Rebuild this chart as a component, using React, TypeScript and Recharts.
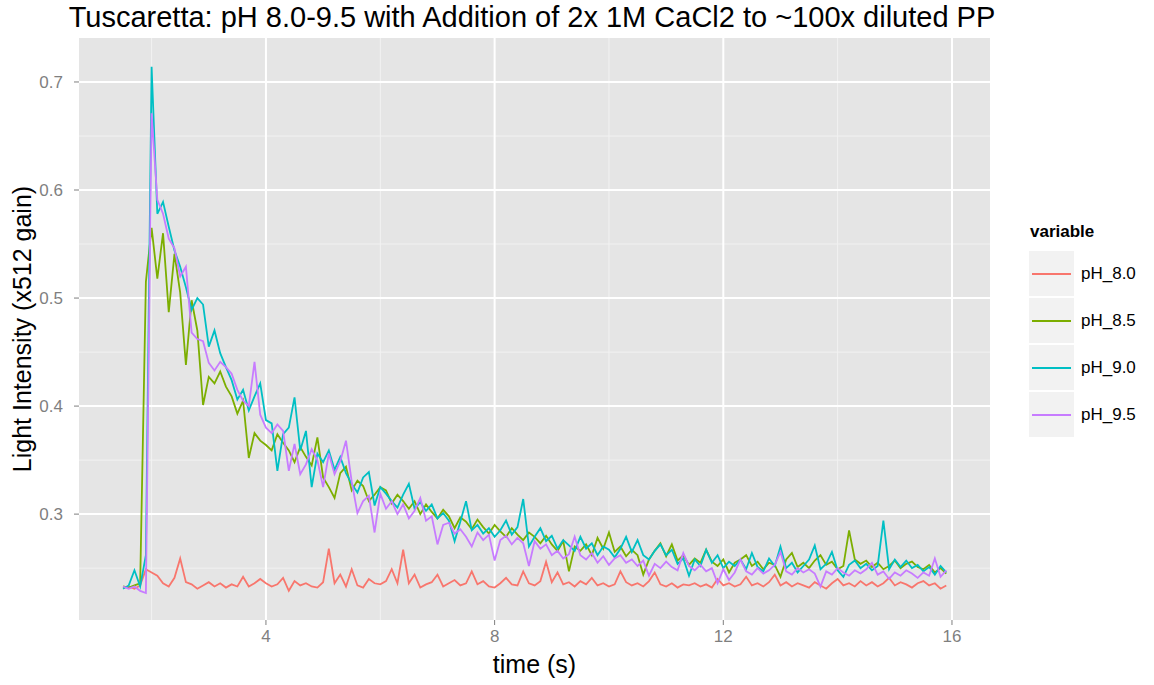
import React from "react";
import { LineChart, Line, XAxis, YAxis, CartesianGrid, Label } from "recharts";

// time (s), 0.1 s step
const time = [
  1.5, 1.6, 1.7, 1.8, 1.9, 2.0, 2.1, 2.2, 2.3, 2.4,
  2.5, 2.6, 2.7, 2.8, 2.9, 3.0, 3.1, 3.2, 3.3, 3.4,
  3.5, 3.6, 3.7, 3.8, 3.9, 4.0, 4.1, 4.2, 4.3, 4.4,
  4.5, 4.6, 4.7, 4.8, 4.9, 5.0, 5.1, 5.2, 5.3, 5.4,
  5.5, 5.6, 5.7, 5.8, 5.9, 6.0, 6.1, 6.2, 6.3, 6.4,
  6.5, 6.6, 6.7, 6.8, 6.9, 7.0, 7.1, 7.2, 7.3, 7.4,
  7.5, 7.6, 7.7, 7.8, 7.9, 8.0, 8.1, 8.2, 8.3, 8.4,
  8.5, 8.6, 8.7, 8.8, 8.9, 9.0, 9.1, 9.2, 9.3, 9.4,
  9.5, 9.6, 9.7, 9.8, 9.9, 10.0, 10.1, 10.2, 10.3, 10.4,
  10.5, 10.6, 10.7, 10.8, 10.9, 11.0, 11.1, 11.2, 11.3, 11.4,
  11.5, 11.6, 11.7, 11.8, 11.9, 12.0, 12.1, 12.2, 12.3, 12.4,
  12.5, 12.6, 12.7, 12.8, 12.9, 13.0, 13.1, 13.2, 13.3, 13.4,
  13.5, 13.6, 13.7, 13.8, 13.9, 14.0, 14.1, 14.2, 14.3, 14.4,
  14.5, 14.6, 14.7, 14.8, 14.9, 15.0, 15.1, 15.2, 15.3, 15.4,
  15.5, 15.6, 15.7, 15.8, 15.9,
];

const ph80 = [
  0.232, 0.233, 0.231, 0.234, 0.249, 0.246, 0.243, 0.236, 0.233, 0.241,
  0.259, 0.237, 0.235, 0.231, 0.234, 0.237, 0.233, 0.236, 0.232, 0.235,
  0.233, 0.242, 0.233, 0.236, 0.240, 0.236, 0.233, 0.235, 0.241, 0.229,
  0.238, 0.234, 0.236, 0.233, 0.232, 0.237, 0.268, 0.236, 0.244, 0.233,
  0.249, 0.234, 0.232, 0.240, 0.236, 0.235, 0.238, 0.249, 0.236, 0.267,
  0.236, 0.244, 0.232, 0.235, 0.237, 0.244, 0.233, 0.236, 0.239, 0.234,
  0.236, 0.247, 0.235, 0.238, 0.233, 0.232, 0.236, 0.241, 0.235, 0.234,
  0.247, 0.236, 0.234, 0.238, 0.256, 0.237, 0.246, 0.235, 0.237, 0.233,
  0.238, 0.235, 0.241, 0.234, 0.236, 0.233, 0.235, 0.247, 0.237, 0.234,
  0.236, 0.233, 0.238, 0.246, 0.235, 0.233, 0.236, 0.232, 0.235, 0.234,
  0.236, 0.233, 0.235, 0.232, 0.240, 0.234, 0.236, 0.233, 0.235, 0.242,
  0.234, 0.236, 0.233, 0.237, 0.244, 0.234, 0.237, 0.233, 0.236, 0.234,
  0.232, 0.237, 0.234, 0.231, 0.236, 0.240, 0.234, 0.236, 0.233, 0.238,
  0.234, 0.237, 0.233, 0.236, 0.241, 0.234, 0.237, 0.235, 0.232, 0.236,
  0.238, 0.234, 0.236, 0.231, 0.234,
];

const ph85 = [
  0.233, 0.232, 0.234, 0.236, 0.515, 0.565, 0.518, 0.560, 0.487, 0.541,
  0.505, 0.438, 0.498, 0.470, 0.401, 0.427, 0.421, 0.432, 0.418, 0.409,
  0.393, 0.405, 0.352, 0.375, 0.368, 0.364, 0.359, 0.374, 0.366, 0.359,
  0.348, 0.362, 0.353, 0.345, 0.371, 0.334, 0.325, 0.315, 0.338, 0.344,
  0.322, 0.331, 0.326, 0.312, 0.318, 0.325, 0.322, 0.310, 0.318, 0.312,
  0.305, 0.312, 0.300, 0.309, 0.302, 0.296, 0.304, 0.298, 0.287, 0.297,
  0.293, 0.286, 0.295, 0.288, 0.282, 0.290, 0.284, 0.279, 0.287, 0.281,
  0.276, 0.283, 0.279, 0.273, 0.280, 0.272, 0.266, 0.275, 0.247, 0.270,
  0.266, 0.272, 0.262, 0.278, 0.268, 0.283, 0.265, 0.270, 0.261, 0.267,
  0.262, 0.244, 0.258, 0.266, 0.273, 0.261, 0.272, 0.257, 0.262, 0.253,
  0.259, 0.255, 0.267, 0.256, 0.252, 0.258, 0.246, 0.255, 0.258, 0.262,
  0.252, 0.256, 0.249, 0.255, 0.253, 0.242, 0.258, 0.264, 0.251, 0.255,
  0.250, 0.257, 0.262, 0.253, 0.256, 0.249, 0.252, 0.285, 0.258, 0.254,
  0.257, 0.251, 0.255, 0.249, 0.252, 0.257, 0.250, 0.254, 0.256, 0.251,
  0.249, 0.253, 0.246, 0.250, 0.245,
];

const ph90 = [
  0.231, 0.234, 0.248, 0.233, 0.262, 0.714, 0.578, 0.589, 0.566, 0.544,
  0.529, 0.510, 0.489, 0.500, 0.494, 0.455, 0.470, 0.449, 0.436, 0.424,
  0.406, 0.415, 0.396, 0.409, 0.421, 0.387, 0.384, 0.340, 0.374, 0.380,
  0.408, 0.359, 0.377, 0.325, 0.356, 0.348, 0.359, 0.341, 0.353, 0.338,
  0.328, 0.320, 0.334, 0.339, 0.308, 0.325, 0.319, 0.312, 0.306, 0.318,
  0.328, 0.305, 0.311, 0.303, 0.309, 0.296, 0.301, 0.294, 0.275, 0.293,
  0.312, 0.285, 0.290, 0.282, 0.287, 0.279, 0.285, 0.294, 0.281, 0.288,
  0.314, 0.270, 0.279, 0.287, 0.275, 0.280, 0.268, 0.276, 0.271, 0.266,
  0.279, 0.268, 0.273, 0.262, 0.270, 0.267, 0.260, 0.268, 0.279, 0.265,
  0.276, 0.262, 0.258, 0.266, 0.272, 0.262, 0.267, 0.254, 0.259, 0.243,
  0.258, 0.252, 0.267, 0.255, 0.262, 0.250, 0.256, 0.252, 0.258, 0.249,
  0.264, 0.251, 0.247, 0.259, 0.252, 0.270, 0.250, 0.255, 0.246, 0.252,
  0.258, 0.271, 0.249, 0.254, 0.265, 0.248, 0.242, 0.253, 0.257, 0.250,
  0.254, 0.248, 0.252, 0.294, 0.249, 0.258, 0.251, 0.257, 0.250, 0.253,
  0.247, 0.251, 0.244, 0.252, 0.246,
];

const ph95 = [
  0.233, 0.231, 0.233, 0.229, 0.227, 0.671, 0.591, 0.578, 0.555, 0.546,
  0.520, 0.529, 0.468, 0.462, 0.460, 0.440, 0.433, 0.441, 0.436, 0.430,
  0.415, 0.405, 0.400, 0.441, 0.392, 0.380, 0.375, 0.383, 0.377, 0.340,
  0.365, 0.337, 0.346, 0.360, 0.350, 0.325, 0.356, 0.337, 0.349, 0.368,
  0.330, 0.301, 0.312, 0.317, 0.283, 0.319, 0.305, 0.312, 0.300, 0.309,
  0.296, 0.303, 0.315, 0.294, 0.298, 0.272, 0.290, 0.292, 0.282, 0.286,
  0.279, 0.270, 0.283, 0.276, 0.281, 0.257, 0.276, 0.280, 0.272, 0.278,
  0.273, 0.252, 0.275, 0.268, 0.272, 0.262, 0.266, 0.259, 0.263, 0.279,
  0.262, 0.258, 0.264, 0.255, 0.261, 0.253, 0.259, 0.262, 0.255, 0.258,
  0.252, 0.257, 0.243, 0.254, 0.250, 0.256, 0.251, 0.248, 0.264, 0.252,
  0.248, 0.253, 0.247, 0.250, 0.236, 0.249, 0.239, 0.246, 0.258, 0.247,
  0.244, 0.250, 0.245, 0.248, 0.253, 0.265, 0.247, 0.244, 0.250, 0.246,
  0.249, 0.245, 0.233, 0.247, 0.244, 0.250, 0.246, 0.243, 0.248, 0.245,
  0.249, 0.255, 0.244, 0.247, 0.240, 0.246, 0.243, 0.248, 0.245, 0.241,
  0.246, 0.243, 0.259, 0.242, 0.248,
];

const seriesNames = ["pH_8.0", "pH_8.5", "pH_9.0", "pH_9.5"];
const seriesColors = ["#F8766D", "#7CAE00", "#00BFC4", "#C77CFF"];

const xTicks = [4, 8, 12, 16];
const xMinor = [2, 6, 10, 14];
const yTicks = [0.3, 0.4, 0.5, 0.6, 0.7];
const yMinor = [0.25, 0.35, 0.45, 0.55, 0.65];

const data = time.map((t, i) => ({
  time: t,
  "pH_8.0": ph80[i],
  "pH_8.5": ph85[i],
  "pH_9.0": ph90[i],
  "pH_9.5": ph95[i],
}));

const font = "'Liberation Sans', Arial, Helvetica, sans-serif";
const tickStyle = { fill: "#7F7F7F", fontSize: 17, fontFamily: font };

export default function App() {
  return (
    <div style={{ position: "relative", width: 1154, height: 685, background: "#fff", fontFamily: font }}>
      <style>{"body{margin:0}"}</style>
      <div
        style={{
          position: "absolute",
          top: 1,
          left: 0,
          width: 1064,
          textAlign: "center",
          fontSize: 29,
          color: "#000",
          whiteSpace: "nowrap",
        }}
      >
        Tuscaretta: pH 8.0-9.5 with Addition of 2x 1M CaCl2 to ~100x diluted PP
      </div>
      <LineChart width={1154} height={685} data={data} margin={{ top: 38, right: 164, bottom: 35, left: 0 }}>
        <CartesianGrid
          fill="#E5E5E5"
          stroke="#F2F2F2"
          strokeWidth={1}
          horizontalValues={yMinor}
          verticalValues={xMinor}
        />
        <CartesianGrid
          stroke="#FFFFFF"
          strokeWidth={2}
          fillOpacity={0}
          horizontalValues={yTicks}
          verticalValues={xTicks}
        />
        <XAxis
          type="number"
          dataKey="time"
          domain={[0.73, 16.665]}
          ticks={xTicks}
          allowDataOverflow
          axisLine={false}
          tickLine={{ stroke: "#7F7F7F" }}
          tickSize={5}
          tickMargin={5}
          tick={tickStyle}
          height={30}
        >
          <Label value="time (s)" position="bottom" offset={5} style={{ fill: "#000", fontSize: 25, fontFamily: font }} />
        </XAxis>
        <YAxis
          type="number"
          domain={[0.202, 0.7407]}
          ticks={yTicks}
          allowDataOverflow
          axisLine={false}
          tickLine={{ stroke: "#7F7F7F" }}
          tickSize={5}
          tickMargin={11}
          tick={tickStyle}
          width={79}
        >
          <Label
            value="Light Intensity (x512 gain)"
            angle={-90}
            position="insideLeft"
            offset={22}
            style={{ fill: "#000", fontSize: 25, fontFamily: font, textAnchor: "middle" }}
          />
        </YAxis>
        {seriesNames.map((name, i) => (
          <Line
            key={name}
            type="linear"
            dataKey={name}
            stroke={seriesColors[i]}
            strokeWidth={1.8}
            dot={false}
            isAnimationActive={false}
          />
        ))}
      </LineChart>
      <div style={{ position: "absolute", left: 1028, top: 222 }}>
        <div style={{ fontWeight: "bold", fontSize: 17, color: "#000", marginBottom: 8, marginLeft: 2 }}>variable</div>
        {seriesNames.map((name, i) => (
          <div key={name} style={{ display: "flex", alignItems: "center", height: 47 }}>
            <div
              style={{
                width: 45,
                height: 45,
                background: "#F2F2F2",
                border: "1px solid #fff",
                display: "flex",
                alignItems: "center",
                justifyContent: "center",
              }}
            >
              <div style={{ width: 39, height: 2, background: seriesColors[i] }} />
            </div>
            <div style={{ marginLeft: 6, fontSize: 17, color: "#000" }}>{name}</div>
          </div>
        ))}
      </div>
    </div>
  );
}
